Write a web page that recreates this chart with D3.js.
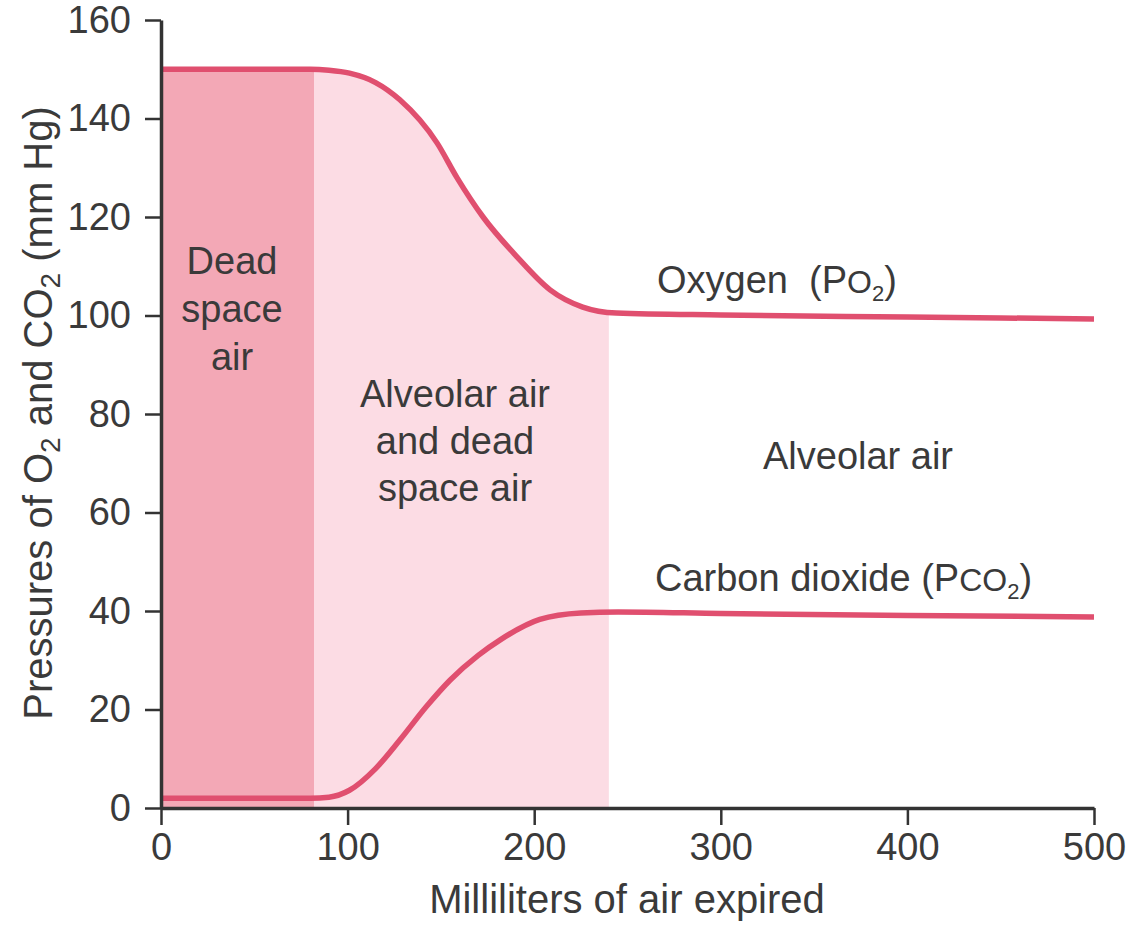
<!DOCTYPE html>
<html><head><meta charset="utf-8">
<script src="https://cdn.jsdelivr.net/npm/d3@7"></script>
<style>
html,body{margin:0;padding:0;background:#fff;}
text{font-family:"Liberation Sans",Arial,Helvetica,sans-serif;fill:#3a3a3a;white-space:pre;}
</style></head>
<body><svg id="c" width="1130" height="925"></svg>
<script>
// Data
const o2Volume = [0, 80, 90, 101, 115, 128, 148, 158.6, 172.6, 190.8, 208.5, 226, 244, 300, 400, 500];
const o2Pressure = [150, 150, 149.8, 149.2, 147.3, 143.8, 135, 128, 120, 111.9, 105.2, 101.7, 100.5, 100.1, 99.7, 99.3];
const co2Volume = [0, 80, 90, 101, 115, 128, 142, 155, 170, 182, 203, 225, 245, 300, 400, 500];
const co2Pressure = [2, 2, 2.2, 3.6, 8, 13.8, 20.5, 26, 31, 34.2, 38.3, 39.6, 39.8, 39.5, 39.1, 38.8];
const regionNames = ["Dead space air", "Alveolar air and dead space air", "Alveolar air"];
const regionStart = [0, 82, 240];
const regionEnd = [82, 240, 500];
const xTicks = [0, 100, 200, 300, 400, 500];
const yTicks = [0, 20, 40, 60, 80, 100, 120, 140, 160];

const svg = d3.select("#c");
const x = d3.scaleLinear().domain([0, 500]).range([161, 1094]);
const y = d3.scaleLinear().domain([0, 160]).range([808, 20]);

const o2 = o2Volume.map((v, i) => ({v, p: o2Pressure[i]}));
const co2 = co2Volume.map((v, i) => ({v, p: co2Pressure[i]}));

const fills = ["#f3a8b6", "#fcdce4"];
const defs = svg.append("defs");
[0, 1].forEach(i => {
  defs.append("clipPath").attr("id", "clip" + i).append("rect")
    .attr("x", x(regionStart[i])).attr("y", y(160))
    .attr("width", x(regionEnd[i]) - x(regionStart[i])).attr("height", y(0) - y(160));
});
const area = d3.area().x(d => x(d.v)).y0(y(0)).y1(d => y(d.p)).curve(d3.curveMonotoneX);
[0, 1].forEach(i => {
  svg.append("path").datum(o2).attr("d", area).attr("fill", fills[i])
    .attr("clip-path", "url(#clip" + i + ")");
});

const line = d3.line().x(d => x(d.v)).y(d => y(d.p)).curve(d3.curveMonotoneX);
[o2, co2].forEach(s => {
  svg.append("path").datum(s).attr("d", line).attr("fill", "none")
    .attr("stroke", "#e04f6f").attr("stroke-width", 5.5).attr("stroke-linecap", "butt");
});

// Axes
const yAxis = svg.append("g").attr("transform", `translate(${x(0)},0)`)
  .call(d3.axisLeft(y).tickValues(yTicks).tickSize(16).tickPadding(14).tickSizeOuter(0));
const xAxis = svg.append("g").attr("transform", `translate(0,${y(0)})`)
  .call(d3.axisBottom(x).tickValues(xTicks).tickSize(17).tickPadding(8).tickSizeOuter(0));
[yAxis, xAxis].forEach(g => {
  g.select(".domain").attr("stroke", "#333").attr("stroke-width", 3.5);
  g.selectAll(".tick line").attr("stroke", "#333").attr("stroke-width", 2.5);
  g.selectAll(".tick text").attr("font-size", 38).attr("fill", "#3a3a3a")
    .attr("font-family", "Liberation Sans, Arial, sans-serif");
});

// Axis titles
svg.append("text").attr("x", 627).attr("y", 913).attr("text-anchor", "middle")
  .attr("font-size", 40).text("Milliliters of air expired");
const yt = svg.append("text").attr("transform", "translate(52,413) rotate(-90)")
  .attr("text-anchor", "middle").attr("font-size", 40);
yt.append("tspan").text("Pressures of O");
yt.append("tspan").attr("font-size", 28).attr("dy", 8).text("2");
yt.append("tspan").attr("dy", -8).text(" and CO");
yt.append("tspan").attr("font-size", 28).attr("dy", 8).text("2");
yt.append("tspan").attr("dy", -8).text(" (mm Hg)");

// Region labels
function multiline(cx, y0, lines, lh) {
  const t = svg.append("text").attr("text-anchor", "middle").attr("font-size", 38);
  lines.forEach((l, i) => t.append("tspan").attr("x", cx).attr("y", y0 + i * lh).text(l));
}
multiline(232, 274, ["Dead", "space", "air"], 48);
multiline(455, 407, ["Alveolar air", "and dead", "space air"], 47);
multiline(858, 469, [regionNames[2]], 47);

// Series labels
const ot = svg.append("text").attr("x", 657).attr("y", 293).attr("font-size", 38);
ot.append("tspan").text("Oxygen  (P");
ot.append("tspan").attr("font-size", 32).text("O");
ot.append("tspan").attr("font-size", 22).attr("dy", 8).text("2");
ot.append("tspan").attr("dy", -8).text(")");
const ct = svg.append("text").attr("x", 655).attr("y", 591).attr("font-size", 38);
ct.append("tspan").text("Carbon dioxide (P");
ct.append("tspan").attr("font-size", 32).text("CO");
ct.append("tspan").attr("font-size", 22).attr("dy", 8).text("2");
ct.append("tspan").attr("dy", -8).text(")");
</script></body></html>
